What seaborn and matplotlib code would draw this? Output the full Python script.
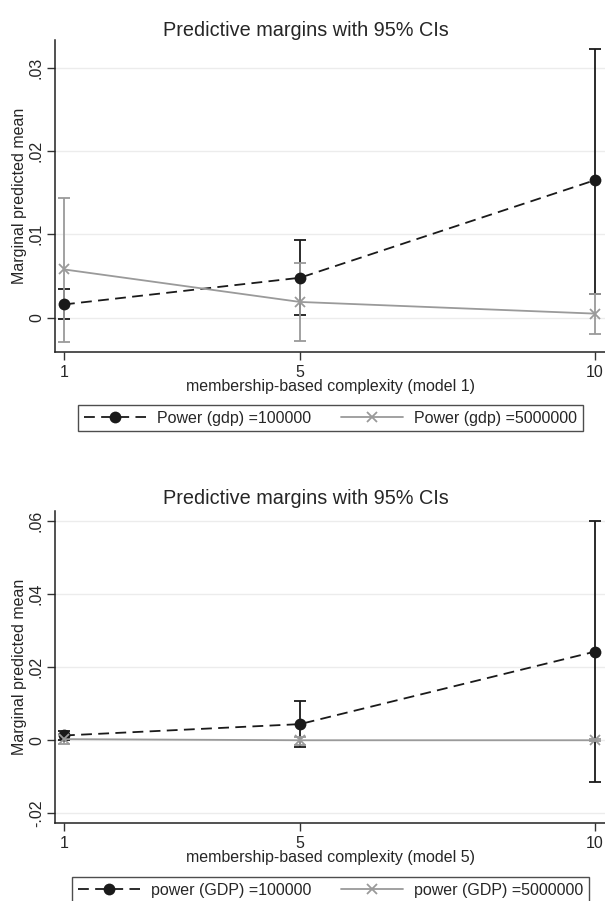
import matplotlib
matplotlib.use('Agg')
import matplotlib.pyplot as plt
import pandas as pd
import seaborn as sns
from matplotlib.ticker import FuncFormatter

# x positions (membership-based complexity)
x_vals = [1, 5, 10]

# model 1 - power (gdp) = 100000
m1_low_margin = [0.0016, 0.0048, 0.0165]
m1_low_ci_lo = [-0.0002, 0.0003, 0.0028]
m1_low_ci_hi = [0.0034, 0.0093, 0.0322]
# model 1 - power (gdp) = 5000000
m1_high_margin = [0.0058, 0.0019, 0.0005]
m1_high_ci_lo = [-0.0029, -0.0028, -0.0019]
m1_high_ci_hi = [0.0144, 0.0066, 0.0029]

# model 5 - power (GDP) = 100000
m5_low_margin = [0.0013, 0.0044, 0.0242]
m5_low_ci_lo = [0.0002, -0.0018, -0.0115]
m5_low_ci_hi = [0.0025, 0.0107, 0.0599]
# model 5 - power (GDP) = 5000000
m5_high_margin = [0.0003, 0.0000, 0.0000]
m5_high_ci_lo = [-0.0011, -0.0014, -0.0003]
m5_high_ci_hi = [0.0017, 0.0008, 0.0003]

m1_labels = ['Power (gdp) =100000', 'Power (gdp) =5000000']
m5_labels = ['power (GDP) =100000', 'power (GDP) =5000000']
m1_yticks = [0, 0.01, 0.02, 0.03]
m5_yticks = [-0.02, 0, 0.02, 0.04, 0.06]

TITLE = 'Predictive margins with 95% CIs'
YLABEL = 'Marginal predicted mean'

BLACK = '#1a1a1a'
GRAY = '#9a9a9a'

sns.set_style('white')
plt.rcParams['font.family'] = ['Liberation Sans', 'DejaVu Sans']


def stata_fmt(v, pos=None):
    if abs(v) < 1e-12:
        return '0'
    s = f'{v:.2f}'
    return s.replace('0.', '.')


def draw_panel(ax, series, labels, yticks, ylim, xlabel):
    colors = [BLACK, GRAY]
    markers = ['o', 'x']
    for (margin, lo, hi), lab, col, mk in zip(series, labels, colors, markers):
        df = pd.DataFrame({'x': x_vals, 'margin': margin})
        # confidence intervals (capped spikes)
        yerr = [[m - l for m, l in zip(margin, lo)], [h - m for m, h in zip(margin, hi)]]
        ax.errorbar(x_vals, margin, yerr=yerr, fmt='none', ecolor=col,
                    elinewidth=1.3, capsize=4, capthick=1.3, zorder=2)
        sns.lineplot(data=df, x='x', y='margin', color=col, marker=mk,
                     markersize=8.5 if mk == 'o' else 7,
                     markeredgewidth=0 if mk == 'o' else 1.3,
                     markeredgecolor=col, linewidth=1.3, label=lab,
                     errorbar=None, ax=ax, zorder=3)
        line = ax.lines[-1]
        if mk == 'o':
            line.set_dashes((6, 3.5))
    if ax.get_legend() is not None:
        ax.get_legend().remove()

    ax.set_xlim(0.848, 10.17)
    ax.set_ylim(*ylim)
    ax.set_xticks(x_vals)
    ax.set_xticklabels([str(v) for v in x_vals])
    ax.set_yticks(yticks)
    ax.yaxis.set_major_formatter(FuncFormatter(stata_fmt))
    ax.grid(axis='y', color='#ececec', linewidth=1)
    ax.grid(axis='x', visible=False)
    ax.tick_params(axis='y', labelrotation=90, length=6, width=1,
                   labelsize=11.5, pad=2, left=True, color='#333333')
    ax.tick_params(axis='x', length=6, width=1, labelsize=11.5, pad=3,
                   bottom=True, color='#333333')
    for lbl in ax.get_yticklabels():
        lbl.set_va('center')
    for s in ['top', 'right']:
        ax.spines[s].set_visible(False)
    for s in ['left', 'bottom']:
        ax.spines[s].set_color('#222222')
        ax.spines[s].set_linewidth(1.1)
    ax.set_xlabel(xlabel, fontsize=11.5)
    ax.set_ylabel(YLABEL, fontsize=11.5)
    ax.xaxis.set_label_coords(0.5, -0.085)
    ax.yaxis.set_label_coords(-0.05, 0.5)


fig = plt.figure(figsize=(6.05, 9.01), dpi=100)
W, H = 605, 901

ax1 = fig.add_axes([55 / W, 1 - 352 / H, 1 - 55 / W, 312 / H])
ax2 = fig.add_axes([55 / W, 1 - 823 / H, 1 - 55 / W, 312 / H])

draw_panel(ax1,
           [(m1_low_margin, m1_low_ci_lo, m1_low_ci_hi),
            (m1_high_margin, m1_high_ci_lo, m1_high_ci_hi)],
           m1_labels, m1_yticks, (-0.0041, 0.0333),
           'membership-based complexity (model 1)')
draw_panel(ax2,
           [(m5_low_margin, m5_low_ci_lo, m5_low_ci_hi),
            (m5_high_margin, m5_high_ci_lo, m5_high_ci_hi)],
           m5_labels, m5_yticks, (-0.0226, 0.0626),
           'membership-based complexity (model 5)')

fig.text(306 / W, 1 - 31 / H, TITLE, ha='center', va='center', fontsize=14.3)
fig.text(306 / W, 1 - 499 / H, TITLE, ha='center', va='center', fontsize=14.3)

for ax, box in [(ax1, (78, 402, 583, 434)), (ax2, (72, 874, 589, 906))]:
    h, l = ax.get_legend_handles_labels()
    x0, y0, x1, y1 = box
    leg = fig.legend(h, l, loc='center', ncol=2, mode='expand',
                     bbox_to_anchor=(x0 / W, 1 - y1 / H, (x1 - x0) / W, (y1 - y0) / H),
                     frameon=True, fancybox=False, fontsize=11.5,
                     handlelength=3.9, borderpad=0.35, numpoints=1,
                     handletextpad=0.7, borderaxespad=0)
    leg.get_frame().set_edgecolor('#222222')
    leg.get_frame().set_linewidth(1.0)

fig.savefig('out.png', dpi=100)
